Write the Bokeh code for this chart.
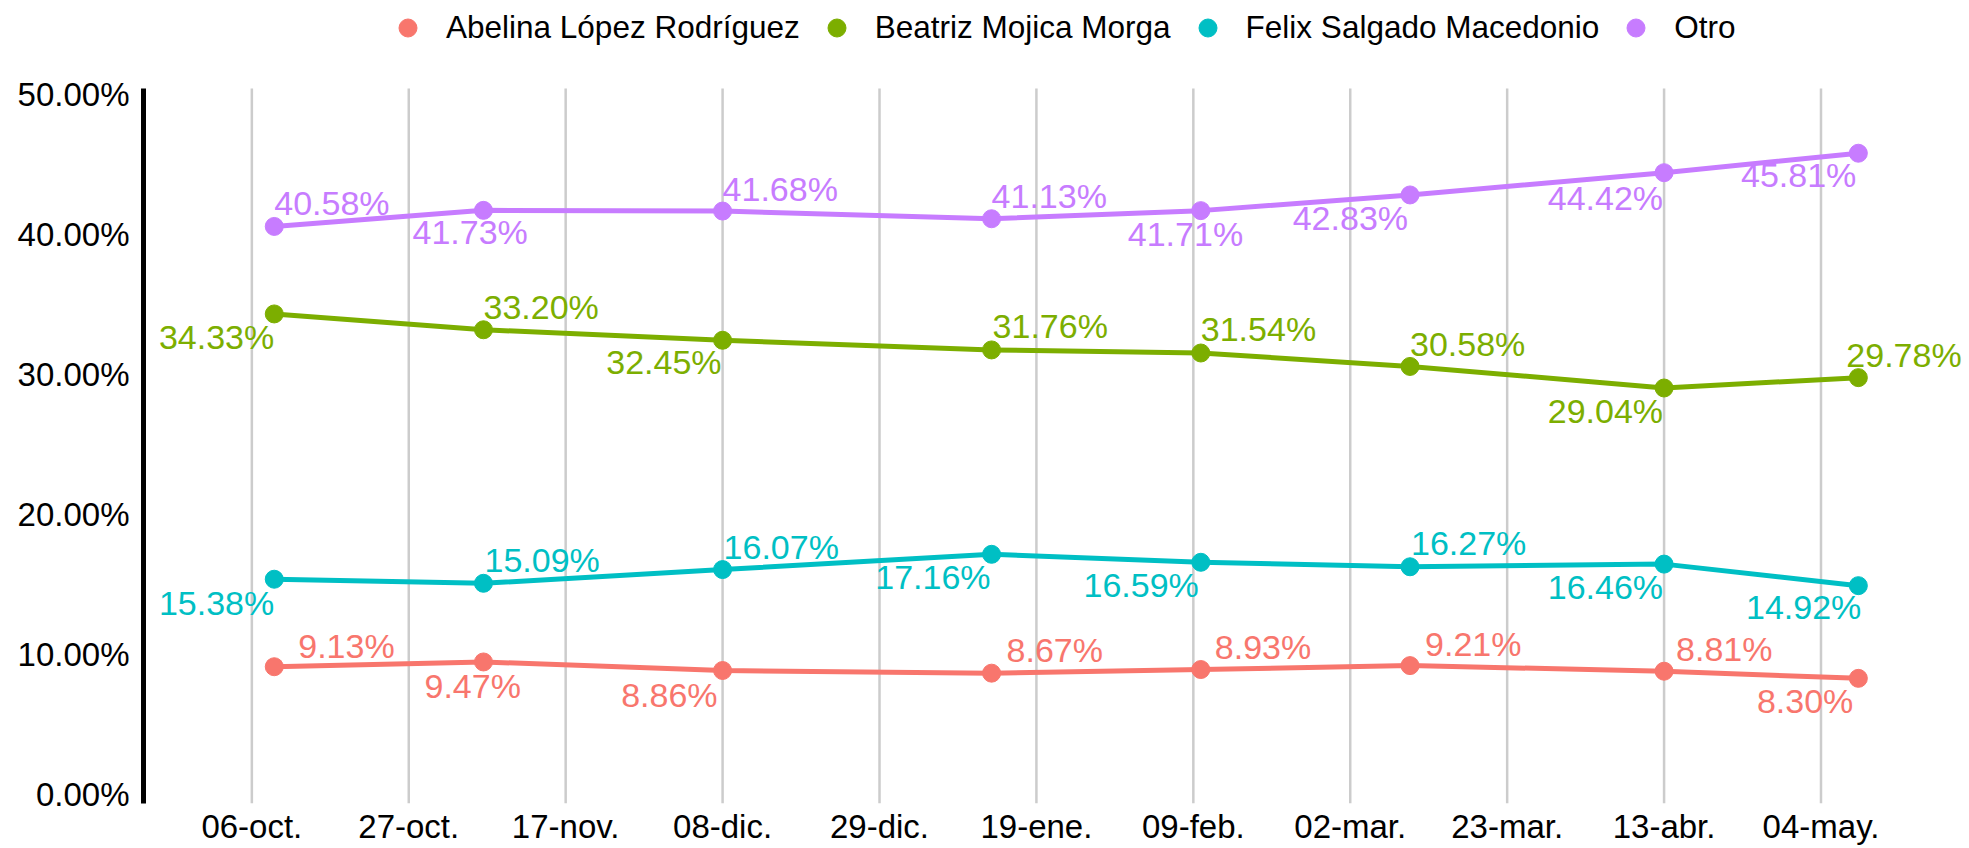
import pandas as pd
from bokeh.plotting import figure
from bokeh.models import (ColumnDataSource, Range1d, FixedTicker, PrintfTickFormatter,
                          CustomJSTickFormatter, Legend, LegendItem)
from bokeh.core.properties import value
from bokeh.embed import file_html
from bokeh.resources import INLINE

# ---------------- data ----------------
survey_dates = ["2020-10-09", "2020-11-06", "2020-12-08", "2021-01-13",
                "2021-02-10", "2021-03-10", "2021-04-13", "2021-05-09"]
series_names = ["Abelina López Rodríguez", "Beatriz Mojica Morga",
                "Felix Salgado Macedonio", "Otro"]
abelina = [9.13, 9.47, 8.86, 8.67, 8.93, 9.21, 8.81, 8.30]
beatriz = [34.33, 33.20, 32.45, 31.76, 31.54, 30.58, 29.04, 29.78]
felix = [15.38, 15.09, 16.07, 17.16, 16.59, 16.27, 16.46, 14.92]
otro = [40.58, 41.73, 41.68, 41.13, 41.71, 42.83, 44.42, 45.81]

tick_dates = ["2020-10-06", "2020-10-27", "2020-11-17", "2020-12-08", "2020-12-29",
              "2021-01-19", "2021-02-09", "2021-03-02", "2021-03-23", "2021-04-13",
              "2021-05-04"]
tick_labels = ["06-oct.", "27-oct.", "17-nov.", "08-dic.", "29-dic.", "19-ene.",
               "09-feb.", "02-mar.", "23-mar.", "13-abr.", "04-may."]
y_ticks = [0, 10, 20, 30, 40, 50]

# ---------------- styling / label layout ----------------
colors = ["#F8766D", "#7CAE00", "#00BFC4", "#C77CFF"]
FONT = "Liberation Sans"
Y_LO, Y_HI = -0.64, 50.43      # panel extent (axis line / grid lines)
Y_TOP = 56.72                  # room above the panel for the legend

label_align = [
    ["left", "left", "right", "left", "left", "left", "left", "right"],
    ["right", "left", "right", "left", "left", "left", "right", "left"],
    ["right", "left", "left", "right", "right", "left", "right", "right"],
    ["left", "left", "left", "left", "left", "right", "right", "right"],
]
label_dx = [
    [24, -59, -5, 15, 14, 15, 12, -5],
    [0, 0, -1, 1, 0, 0, -1, -12],
    [0, 1, 1, -1, -2, 1, -1, 3],
    [0, -71, 0, 0, -73, -2, -1, -2],
]
label_dy = [
    [-21, 24, 24, -23, -23, -22, -22, 23],
    [23, -23, 22, -24, -24, -22, 23, -23],
    [24, -23, -23, 23, 23, -24, 23, 21],
    [-23, 22, -22, -23, 23, 23, 25, 22],
]


def ms(s):
    return pd.Timestamp(s).value // 10**6


x_vals = [ms(d) for d in survey_dates]
tick_ms = [ms(d) for d in tick_dates]
values = [abelina, beatriz, felix, otro]

p = figure(width=1969, height=848, output_backend="svg", toolbar_location=None,
           x_axis_type="datetime",
           x_range=Range1d(ms("2020-09-21 12:00"), ms("2021-05-23 21:00")),
           y_range=Range1d(Y_LO, Y_TOP),
           min_border_left=143, min_border_right=0, min_border_top=0,
           min_border_bottom=45)
p.outline_line_color = None
p.background_fill_color = "white"
p.border_fill_color = "white"

# vertical grid lines at the date ticks, limited to the panel
p.segment(x0=tick_ms, y0=[Y_LO] * len(tick_ms), x1=tick_ms, y1=[Y_HI] * len(tick_ms),
          line_color="#cccccc", line_width=2.5)
p.xgrid.grid_line_color = None
p.ygrid.grid_line_color = None

# axes
xt = FixedTicker(ticks=tick_ms)
p.xaxis.ticker = xt
p.xaxis.formatter = CustomJSTickFormatter(args=dict(tvals=tick_ms, tlabels=tick_labels), code="""
let best = 0, bd = Infinity;
for (let i = 0; i < tvals.length; i++) {
  const d = Math.abs(tvals[i] - tick);
  if (d < bd) { bd = d; best = i; }
}
return tlabels[best];
""")
p.xaxis.axis_line_color = None
p.xaxis.major_tick_line_color = None
p.xaxis.minor_tick_line_color = None
p.xaxis.major_tick_out = 0
p.xaxis.major_tick_in = 0
p.xaxis.major_label_standoff = 4
p.xaxis.major_label_text_font = FONT
p.xaxis.major_label_text_font_size = "33px"
p.xaxis.major_label_text_color = "black"

p.yaxis.ticker = FixedTicker(ticks=y_ticks)
p.yaxis.bounds = (Y_LO, Y_HI)
p.yaxis.formatter = PrintfTickFormatter(format="%.2f%%")
p.yaxis.axis_line_color = "black"
p.yaxis.axis_line_width = 5
p.yaxis.major_tick_line_color = None
p.yaxis.minor_tick_line_color = None
p.yaxis.major_tick_out = 0
p.yaxis.major_tick_in = 0
p.yaxis.major_label_standoff = 14
p.yaxis.major_label_text_font = FONT
p.yaxis.major_label_text_font_size = "33px"
p.yaxis.major_label_text_color = "black"

legend_items = []
for i, name in enumerate(series_names):
    src = ColumnDataSource(dict(
        x=x_vals, y=values[i],
        label=[f"{v:.2f}%" for v in values[i]],
        align=label_align[i], dx=label_dx[i], dy=label_dy[i],
    ))
    p.line("x", "y", source=src, line_color=colors[i], line_width=5,
           line_join="round")
    r = p.scatter("x", "y", source=src, size=18, fill_color=colors[i],
                  line_color=colors[i])
    p.text("x", "y", text="label", source=src, text_align="align",
           text_baseline="middle", x_offset="dx", y_offset="dy",
           text_color=colors[i], text_font=value(FONT), text_font_size="34px")
    legend_items.append(LegendItem(label=name, renderers=[r]))

legend = Legend(items=legend_items, orientation="horizontal", location=(242, 753),
                border_line_color=None, background_fill_alpha=0, padding=0, margin=0,
                spacing=14, glyph_width=45, glyph_height=45, label_standoff=16,
                label_text_font=FONT, label_text_font_size="31.5px",
                label_text_color="black")
p.add_layout(legend)

open("out.html", "w").write(file_html(p, INLINE))
